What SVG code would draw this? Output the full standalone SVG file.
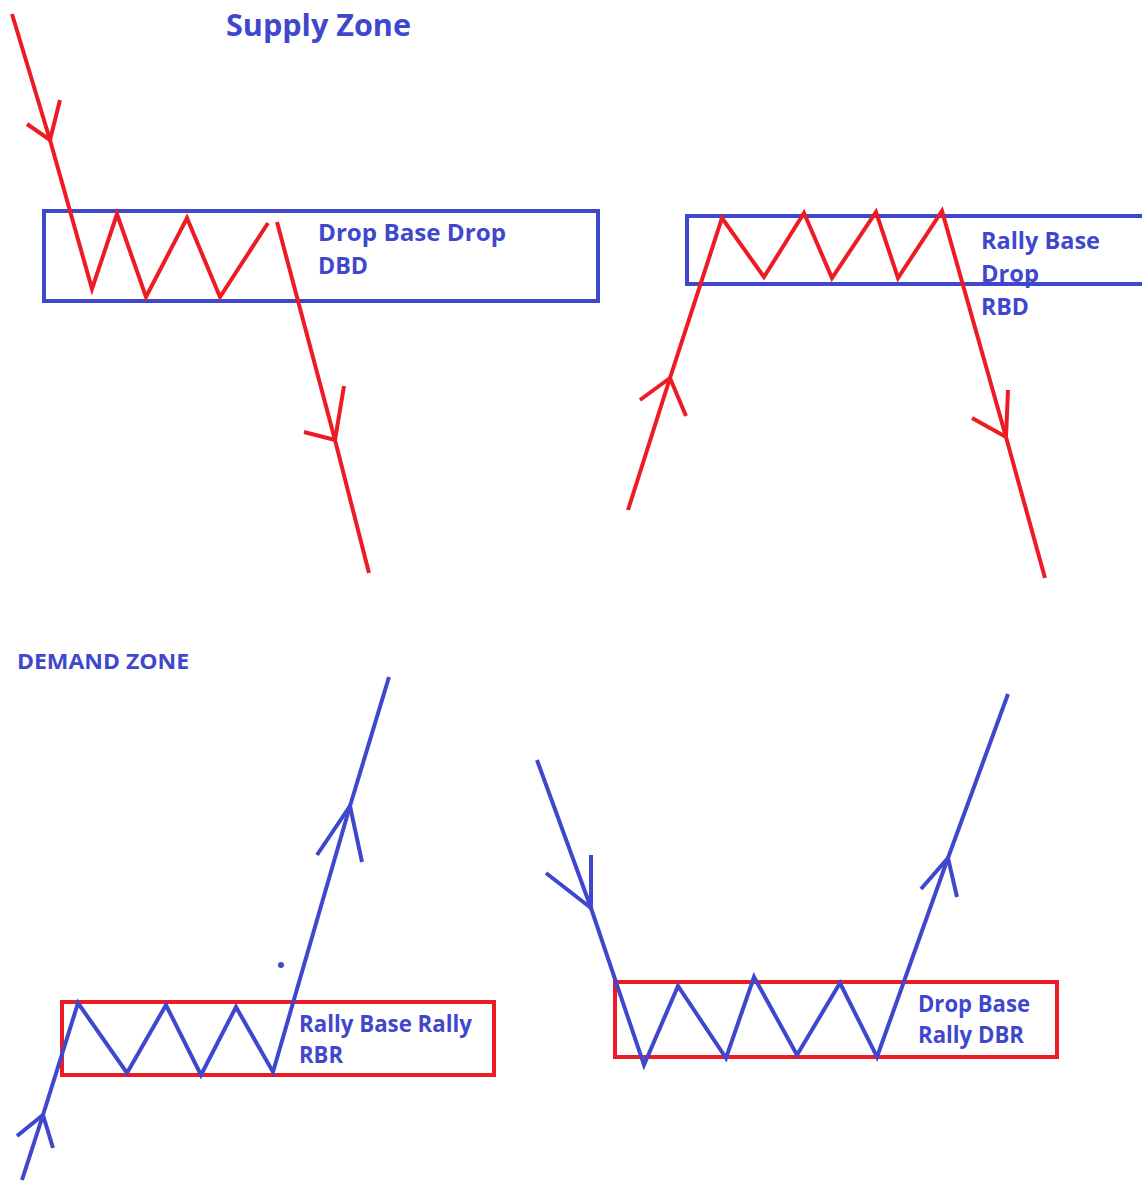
<svg xmlns="http://www.w3.org/2000/svg" width="1142" height="1181" viewBox="0 0 1142 1181">
<style>
.bg{fill:#ffffff}
.r{fill:none;stroke:#ED1C24;stroke-width:4;stroke-linejoin:miter;stroke-linecap:butt}
.b{fill:none;stroke:#3F48CC;stroke-width:4;stroke-linejoin:miter;stroke-linecap:butt}
.boxb{fill:none;stroke:#3F48CC;stroke-width:4}
.boxr{fill:none;stroke:#ED1C24;stroke-width:4}
.t{font-family:"Open Sans",Lato,"Liberation Sans",sans-serif;font-weight:700;fill:#3F48CC}
.lab{font-size:23px}
</style>
<rect class="bg" x="0" y="0" width="1142" height="1181"/>
<text class="t" x="226" y="36" style="font-size:30px" textLength="185" lengthAdjust="spacingAndGlyphs">Supply Zone</text>
<text class="t" x="17" y="669" style="font-size:21px" textLength="172" lengthAdjust="spacingAndGlyphs">DEMAND ZONE</text>

<g id="dbd">
<rect class="boxb" x="44" y="211" width="554" height="90"/>
<text class="t lab" x="318" y="241" textLength="188" lengthAdjust="spacingAndGlyphs">Drop Base Drop</text>
<text class="t lab" x="318" y="274" textLength="50" lengthAdjust="spacingAndGlyphs">DBD</text>
</g>
<g id="rbd">
<path class="boxb" d="M1144,216 H687 V284 H1144"/>
<text class="t lab" x="981" y="249" textLength="119" lengthAdjust="spacingAndGlyphs">Rally Base</text>
<text class="t lab" x="981" y="282" textLength="58" lengthAdjust="spacingAndGlyphs">Drop</text>
<text class="t lab" x="981" y="315" textLength="48" lengthAdjust="spacingAndGlyphs">RBD</text>
</g>
<g id="rbr">
<rect class="boxr" x="62" y="1002" width="432" height="73"/>
<text class="t lab" x="299" y="1032" textLength="173" lengthAdjust="spacingAndGlyphs">Rally Base Rally</text>
<text class="t lab" x="299" y="1063" textLength="44" lengthAdjust="spacingAndGlyphs">RBR</text>
</g>
<g id="dbr">
<rect class="boxr" x="615" y="982" width="442" height="75"/>
<text class="t lab" x="918" y="1012" textLength="112" lengthAdjust="spacingAndGlyphs">Drop Base</text>
<text class="t lab" x="918" y="1043" textLength="106" lengthAdjust="spacingAndGlyphs">Rally DBR</text>
</g>

<g id="connectors">
<!-- DBD -->
<path class="r" d="M12,14 L50,140 L92,289 L117,214 L146,297 L187,218 L220,297 L268,223"/>
<path class="r" d="M27,124 L50,140 L60,100"/>
<path class="r" d="M277,222 L335,440 L369,573"/>
<path class="r" d="M304,432 L335,440 L344,386"/>
<!-- RBD -->
<path class="r" d="M628,510 L670,378 L722,218 L764,277 L804,213 L832,278 L876,212 L898,278 L942,211 L1006,437 L1045,578"/>
<path class="r" d="M640,400 L670,378 L686,416"/>
<path class="r" d="M972,418 L1006,437 L1008,390"/>
<!-- RBR -->
<path class="b" d="M22,1180 L43,1115 L78,1003 L127,1073 L166,1005 L201,1075 L236,1007 L273,1072 L350,806 L389,677"/>
<path class="b" d="M17,1136 L43,1115 L53,1148"/>
<path class="b" d="M317,855 L350,806 L362,862"/>
<circle cx="281" cy="965" r="3" fill="#3F48CC"/>
<!-- DBR -->
<path class="b" d="M537,760 L591,908 L644,1065 L678,986 L726,1058 L754,977 L797,1055 L840,983 L877,1057 L948,858 L1008,694"/>
<path class="b" d="M546,873 L591,908 L591,855"/>
<path class="b" d="M921,889 L948,858 L957,897"/>
</g>
</svg>
